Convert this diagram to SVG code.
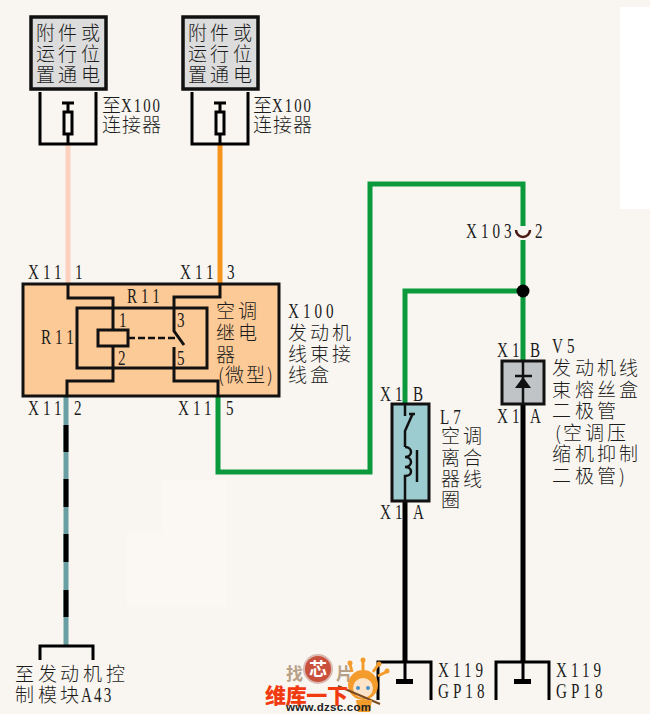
<svg xmlns="http://www.w3.org/2000/svg" width="650" height="714" viewBox="0 0 650 714">
<style>
text{font-family:"Liberation Serif","Noto Sans CJK SC",serif;fill:#1c1c1c;font-size:21px;letter-spacing:5.6px}
.c{font-family:"Noto Sans CJK SC","Liberation Serif",sans-serif;font-weight:300;font-size:19px;letter-spacing:0}
.s{font-size:19px;letter-spacing:2.6px}
.k{fill:none;stroke:#000;stroke-width:3}
.t{fill:none;stroke:#111;stroke-width:3}
.w{fill:none;stroke-width:5}
.g{stroke:#0a9a3c}
.f{fill:#dcdcdc;stroke:#111;stroke-width:3.5}
.l{fill:none;stroke:#111;stroke-width:2.5}
</style>
<rect width="650" height="714" fill="#f9f6f1"/>
<rect x="620" y="7" width="30" height="202" fill="#fff"/>
<rect x="127" y="532" width="100" height="75" fill="#fbf8f3"/>
<rect x="162" y="480" width="65" height="52" fill="#fbf8f3"/>

<g id="connectors">
<path class="w" stroke="#fcd0bd" d="M68 144V284"/>
<path class="w" stroke="#f7941d" d="M220 144V284"/>
<path class="w" stroke="#6a9fa3" d="M66 396V646"/>
<path class="w" stroke="#000" d="M66 425V452M66 479V507M66 534V562M66 590V617"/>
<path class="w g" d="M218 396V472H370V184H523V226M523 240V361"/>
<path class="w g" d="M523 291H405V404"/>
<path class="w" stroke="#000" d="M405 501V662M523 404V662"/>
<circle cx="523" cy="291" r="6.5" fill="#000"/>
<path d="M516 230a7 7 0 0 0 14 0" fill="none" stroke="#4a1a14" stroke-width="2.5"/>
</g>

<g id="power1">
<rect class="f" x="31" y="17" width="75" height="72"/>
<text class="c" x="36 58 81" y="40">附件或</text>
<text class="c" x="36 58 81" y="61">运行位</text>
<text class="c" x="36 58 81" y="82">置通电</text>
</g>
<g id="power2">
<rect class="f" x="183" y="17" width="75" height="72"/>
<text class="c" x="188 210 233" y="40">附件或</text>
<text class="c" x="188 210 233" y="61">运行位</text>
<text class="c" x="188 210 233" y="82">置通电</text>
</g>

<g id="fuse1">
<path class="k" d="M40 92V144H96V92M62 103H74M68 103V112M68 134V144"/>
<rect class="k" x="64" y="112" width="8" height="22"/>
<text class="c" x="102" y="112">至</text><text class="s" transform="translate(121 112) scale(.78 1)">X100</text>
<text class="c" x="102 122 142" y="132">连接器</text>
</g>
<g id="fuse2">
<path class="k" d="M192 92V144H248V92M214 103H226M220 103V112M220 134V144"/>
<rect class="k" x="216" y="112" width="8" height="22"/>
<text class="c" x="253" y="112">至</text><text class="s" transform="translate(272 112) scale(.78 1)">X100</text>
<text class="c" x="253 273 293" y="132">连接器</text>
</g>

<g id="relay-box">
<rect x="23" y="284" width="256" height="112" fill="#fcca96" stroke="#111" stroke-width="3"/>
<rect class="t" x="77" y="308" width="130" height="60"/>
<path class="t" d="M68 284V298H113V330M113 346V381H67V396"/>
<path class="t" d="M220 284V297H174V331L184 345M174 347V381H218V396"/>
<rect class="t" x="98" y="330" width="30" height="16"/>
<path d="M128 338H176" fill="none" stroke="#111" stroke-width="2.5" stroke-dasharray="7 3"/>
<text transform="translate(127 303) scale(.72 1)">R11</text>
<text transform="translate(41 344) scale(.72 1)">R11</text>
<text transform="translate(119 327) scale(.72 1)">1</text>
<text transform="translate(118 365) scale(.72 1)">2</text>
<text transform="translate(177 327) scale(.72 1)">3</text>
<text transform="translate(177 365) scale(.72 1)">5</text>
<text class="c" x="216 238" y="318">空调</text>
<text class="c" x="216 238" y="340">继电</text>
<text class="c" x="216" y="362">器</text>
<text class="c" x="218 225 246 267" y="382">(微型)</text>
<text transform="translate(28 279) scale(.72 1)">X11</text><text transform="translate(75 279) scale(.72 1)">1</text>
<text transform="translate(180 279) scale(.72 1)">X11</text><text transform="translate(227 279) scale(.72 1)">3</text>
<text transform="translate(28 415) scale(.72 1)">X11</text><text transform="translate(74 415) scale(.72 1)">2</text>
<text transform="translate(178 415) scale(.72 1)">X11</text><text transform="translate(226 415) scale(.72 1)">5</text>
</g>

<g id="relay-label">
<text transform="translate(288 318) scale(.72 1)">X100</text>
<text class="c" x="288 310 332" y="340">发动机</text>
<text class="c" x="288 310 332" y="361">线束接</text>
<text class="c" x="288 310" y="382">线盒</text>
</g>

<g id="splice">
<text transform="translate(466 238) scale(.72 1)">X103</text>
<text transform="translate(535 238) scale(.72 1)">2</text>
</g>

<g id="clutch">
<rect x="392" y="404" width="37" height="97" fill="#9ccccf" stroke="#111" stroke-width="3"/>
<path class="l" d="M405 404V416M409 414H415M413 413L405 431V447"/>
<path class="l" d="M405 447c8 0 8 10 0 10c8 0 8 10 0 10c8 0 8 9 0 9V501"/>
<path class="l" d="M417 450V482"/>
<text transform="translate(380 401) scale(.72 1)">X1</text><text transform="translate(413 401) scale(.72 1)">B</text>
<text transform="translate(380 519) scale(.72 1)">X1</text><text transform="translate(413 519) scale(.72 1)">A</text>
<text transform="translate(440 424) scale(.72 1)">L7</text>
<text class="c" x="441 463" y="443">空调</text>
<text class="c" x="441 463" y="465">离合</text>
<text class="c" x="441 463" y="486">器线</text>
<text class="c" x="441" y="507">圈</text>
</g>

<g id="diode">
<rect x="502" y="361" width="42" height="43" fill="#c0c4c6" stroke="#111" stroke-width="3"/>
<path class="l" d="M523 361V404M515 376H532"/>
<path d="M523 377L515 388H531Z" fill="#111"/>
<text transform="translate(497 357) scale(.72 1)">X1</text><text transform="translate(530 357) scale(.72 1)">B</text>
<text transform="translate(497 423) scale(.72 1)">X1</text><text transform="translate(530 423) scale(.72 1)">A</text>
<text transform="translate(552 353) scale(.72 1)">V5</text>
<text class="c" x="552 575 597 619" y="375">发动机线</text>
<text class="c" x="552 575 597 619" y="397">束熔丝盒</text>
<text class="c" x="552 575 597" y="418">二极管</text>
<text class="c" x="555 563 585 607" y="440">(空调压</text>
<text class="c" x="552 575 597 619" y="461">缩机抑制</text>
<text class="c" x="552 575 597 619" y="483">二极管)</text>
</g>

<g id="module-a43">
<path class="k" d="M40 660V646H93V660"/>
<text class="c" x="15 38 60 83 106" y="681">至发动机控</text>
<text class="c" x="15 38 60" y="702">制模块</text><text transform="translate(81 702) scale(.72 1)" style="letter-spacing:3px">A43</text>
</g>

<g id="ground1">
<path class="k" d="M378 700V662H431V700"/>
<path d="M405 662V681" stroke="#000" stroke-width="3"/>
<rect x="396" y="679" width="17" height="5" fill="#000"/>
<text transform="translate(438 677) scale(.72 1)">X119</text>
<text transform="translate(438 698) scale(.72 1)">GP18</text>
</g>
<g id="ground2">
<path class="k" d="M496 700V662H549V700"/>
<path d="M523 662V681" stroke="#000" stroke-width="3"/>
<rect x="514" y="679" width="17" height="5" fill="#000"/>
<text transform="translate(556 677) scale(.72 1)">X119</text>
<text transform="translate(556 698) scale(.72 1)">GP18</text>
</g>

<g id="logo">
<circle cx="318" cy="669" r="14" fill="#c9503a" stroke="#d8b8b0" stroke-width="2"/>
<text class="c" x="286" y="680" style="font-size:17px;font-weight:700;fill:#b8a088">找</text>
<text class="c" x="309" y="676" style="font-size:18px;font-weight:700;fill:#fff">芯</text>
<text class="c" x="336" y="680" style="font-size:17px;font-weight:700;fill:#b8a088">片</text>
<path d="M352 672L350 664M363 670V661M373 672L378 665M378 676L386 672" stroke="#f39c2c" stroke-width="3" fill="none"/>
<circle cx="350" cy="663" r="2.5" fill="#f39c2c"/><circle cx="363" cy="660" r="2.5" fill="#f39c2c"/><circle cx="379" cy="664" r="2.5" fill="#f39c2c"/><circle cx="387" cy="671" r="2.5" fill="#f39c2c"/>
<circle cx="363" cy="685" r="15" fill="#f39c2c"/>
<circle cx="363" cy="688" r="10" fill="#fde3c8"/>
<circle cx="358" cy="688" r="2" fill="#4a90c8"/><circle cx="368" cy="688" r="2" fill="#4a90c8"/>
<path d="M338 686L380 704" stroke="#7a4a20" stroke-width="2"/>
<path d="M356 700H372L370 712H358Z" fill="#f39c2c"/>
<text class="c" x="265" y="703" style="font-size:21px;font-weight:900;fill:#f23a10" textLength="83">维库一下</text>
<text x="286" y="711" style="font-family:'Liberation Sans',sans-serif;font-size:11.5px;font-weight:700;fill:#222;letter-spacing:0" textLength="85">www.dzsc.com</text>
</g>
</svg>
